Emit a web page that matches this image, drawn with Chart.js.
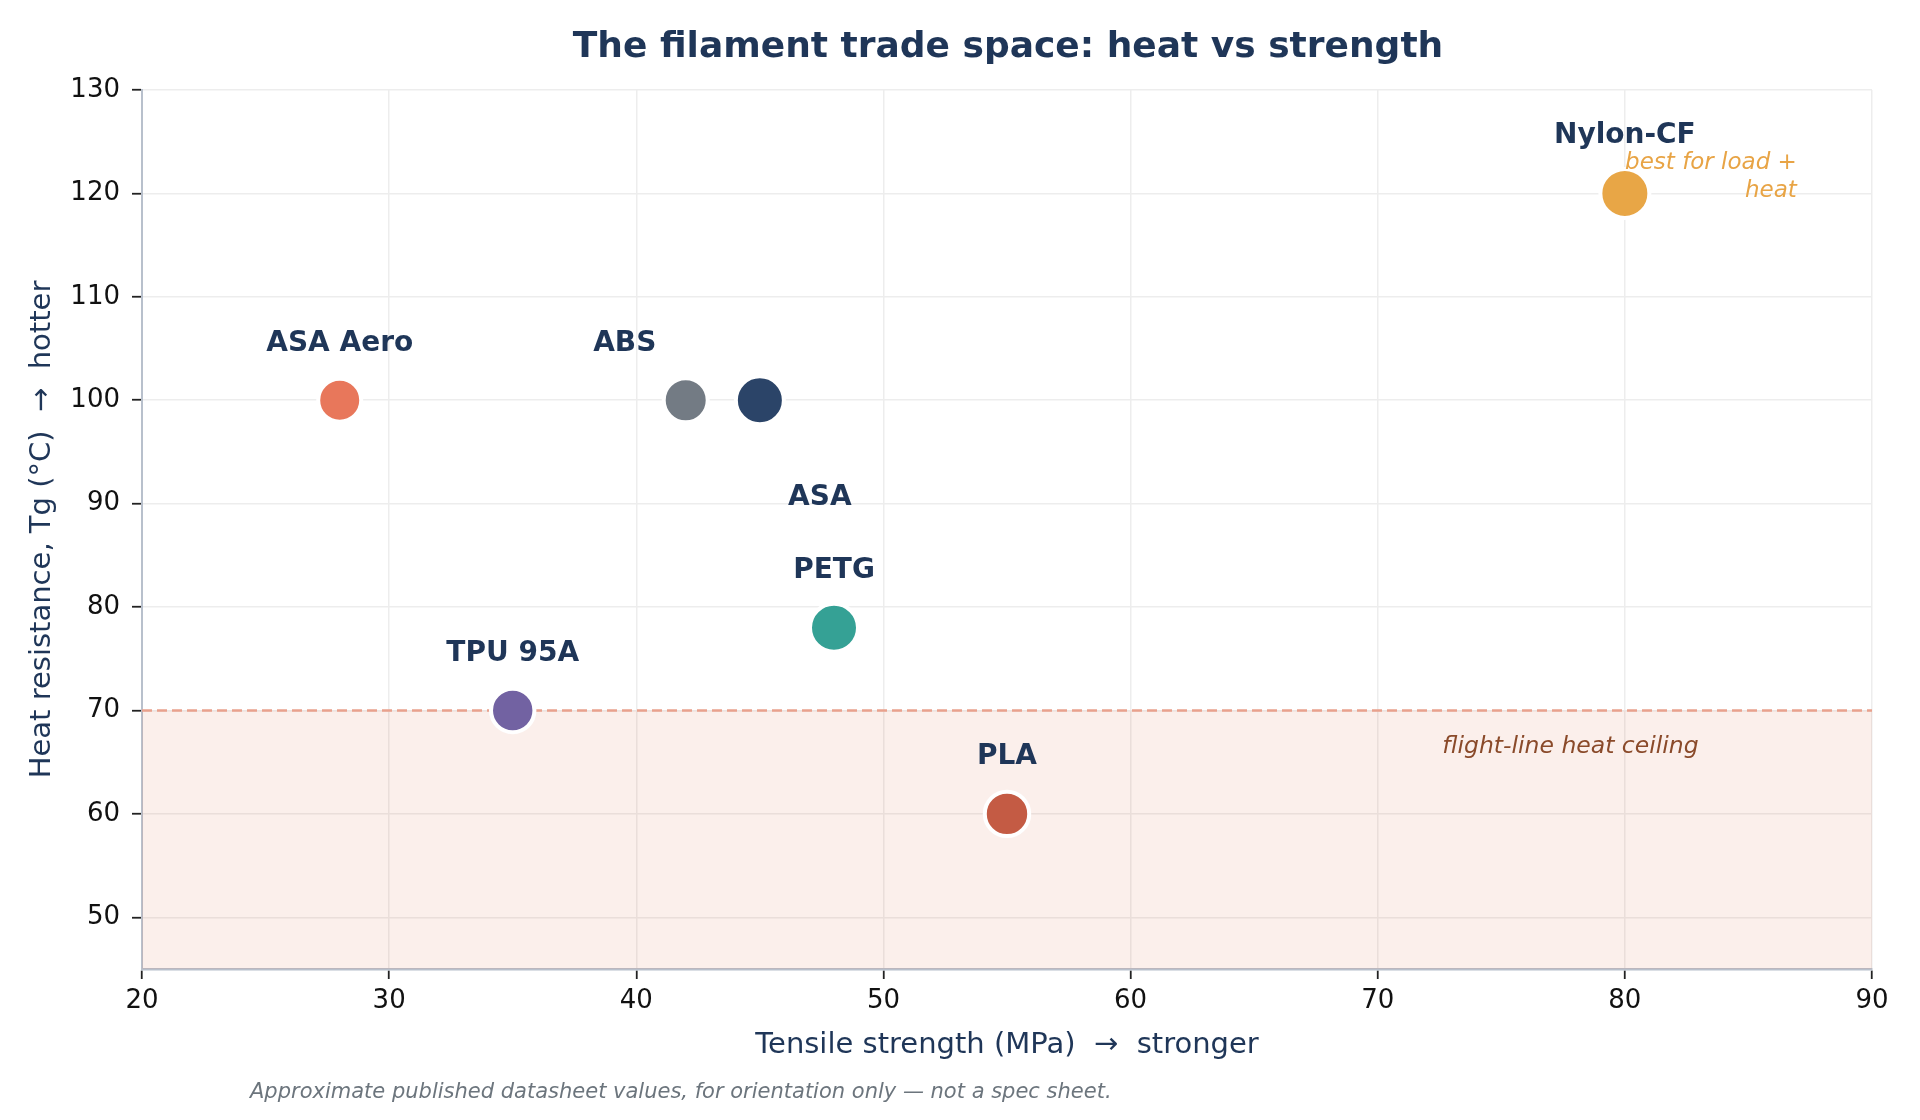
<!DOCTYPE html>
<html lang="en">
<head>
    <meta charset="UTF-8">
    <title>The filament trade space: heat vs strength</title>
    <script src="https://cdn.jsdelivr.net/npm/chart.js"></script>
    <style>
        html, body {
            margin: 0;
            padding: 0;
            background-color: #ffffff;
        }
        canvas {
            display: block;
        }
    </style>
</head>
<body>
    <canvas id="tradeChart" width="1920" height="1120"></canvas>

    <script>
        // values
        var materials  = ['PLA', 'PETG', 'ABS', 'ASA', 'ASA Aero', 'TPU 95A', 'Nylon-CF'];
        var tensileMPa = [55, 48, 42, 45, 28, 35, 80];
        var heatTg     = [60, 78, 100, 100, 100, 70, 120];
        var xTicks = [20, 30, 40, 50, 60, 70, 80, 90];
        var yTicks = [50, 60, 70, 80, 90, 100, 110, 120, 130];
        var heatCeiling = 70;

        // styling, kept apart from the data
        var pointColors = ['#C45B44', '#35A195', '#737B84', '#2B4468', '#E8775B', '#7262A2', '#E8A646'];
        var pointRadii  = [22.2, 24, 22, 24, 21.5, 21.7, 24.5];
        // label offset from its point, in px
        var labelOffsets = [[0, -57], [0, -57], [-61, -57], [60, 97], [0, -57], [0, -57], [0, -58]];

        var NAVY = '#1F3658';
        var FONT = "'DejaVu Sans', 'Liberation Sans', sans-serif";

        var points = tensileMPa.map(function (x, i) {
            return { x: x, y: heatTg[i] };
        });

        var decorPlugin = {
            id: 'decor',
            beforeDatasetsDraw: function (chart) {
                var ctx = chart.ctx;
                var area = chart.chartArea;
                var yPix = chart.scales.y.getPixelForValue(heatCeiling);
                ctx.save();
                // zone under the ceiling
                ctx.fillStyle = 'rgba(214, 95, 60, 0.10)';
                ctx.fillRect(area.left, yPix, area.right - area.left, area.bottom - yPix);
                // ceiling line
                ctx.strokeStyle = '#E9A18D';
                ctx.lineWidth = 2.5;
                ctx.setLineDash([10, 5]);
                ctx.beginPath();
                ctx.moveTo(area.left, yPix);
                ctx.lineTo(area.right, yPix);
                ctx.stroke();
                ctx.setLineDash([]);
                // zone label
                ctx.fillStyle = '#8A4A2A';
                ctx.font = 'italic 23.5px ' + FONT;
                ctx.textAlign = 'center';
                ctx.textBaseline = 'middle';
                ctx.fillText('flight-line heat ceiling',
                    chart.scales.x.getPixelForValue(77.8),
                    chart.scales.y.getPixelForValue(66.45));
                ctx.restore();
            },
            afterDatasetsDraw: function (chart) {
                var ctx = chart.ctx;
                var meta = chart.getDatasetMeta(0);
                ctx.save();
                ctx.fillStyle = NAVY;
                ctx.font = 'bold 28px ' + FONT;
                ctx.textAlign = 'center';
                ctx.textBaseline = 'middle';
                meta.data.forEach(function (pt, i) {
                    ctx.fillText(materials[i], pt.x + labelOffsets[i][0], pt.y + labelOffsets[i][1]);
                });

                // note next to Nylon-CF
                var nylon = meta.data[materials.indexOf('Nylon-CF')];
                ctx.fillStyle = '#E8A445';
                ctx.font = 'italic 23px ' + FONT;
                ctx.textAlign = 'right';
                ctx.fillText('best for load +', nylon.x + 172, nylon.y - 30);
                ctx.fillText('heat', nylon.x + 172, nylon.y - 2);
                ctx.restore();
            },
            afterDraw: function (chart) {
                var ctx = chart.ctx;
                ctx.save();
                ctx.fillStyle = NAVY;
                ctx.font = 'bold 36px ' + FONT;
                ctx.textAlign = 'center';
                ctx.textBaseline = 'middle';
                ctx.fillText('The filament trade space: heat vs strength', 1008, 48);

                ctx.fillStyle = '#6C757D';
                ctx.font = 'italic 21px ' + FONT;
                ctx.textAlign = 'left';
                ctx.textBaseline = 'alphabetic';
                ctx.fillText('Approximate published datasheet values, for orientation only \u2014 not a spec sheet.', 250, 1098);
                ctx.restore();
            }
        };

        var ctx = document.getElementById('tradeChart').getContext('2d');
        var tradeChart = new Chart(ctx, {
            type: 'scatter',
            data: {
                datasets: [{
                    label: 'Filaments',
                    data: points,
                    backgroundColor: pointColors,
                    borderColor: '#ffffff',
                    borderWidth: 4,
                    pointRadius: pointRadii,
                    pointHoverRadius: pointRadii
                }]
            },
            options: {
                responsive: false,
                animation: false,
                devicePixelRatio: 1,
                layout: {
                    padding: { top: 90, right: 48, bottom: 0, left: 0 }
                },
                plugins: {
                    legend: { display: false },
                    title: { display: false },
                    tooltip: { enabled: false }
                },
                scales: {
                    x: {
                        type: 'linear',
                        position: 'bottom',
                        min: 20,
                        max: 90,
                        afterBuildTicks: function (scale) {
                            scale.ticks = xTicks.map(function (v) { return { value: v }; });
                        },
                        afterFit: function (scale) { scale.height = 151; },
                        grid: {
                            color: '#EDEDED',
                            lineWidth: 1.5,
                            tickColor: '#222222',
                            tickLength: 10,
                            tickWidth: 1.8
                        },
                        border: { color: '#B8C0CC', width: 2.5 },
                        ticks: {
                            color: '#111111',
                            padding: 7,
                            font: { family: FONT, size: 26 }
                        },
                        title: {
                            display: true,
                            text: 'Tensile strength (MPa)  \u2192  stronger',
                            color: NAVY,
                            font: { family: FONT, size: 29 },
                            padding: { top: 0, bottom: 57 }
                        }
                    },
                    y: {
                        type: 'linear',
                        min: 45,
                        max: 130,
                        afterBuildTicks: function (scale) {
                            scale.ticks = yTicks.map(function (v) { return { value: v }; });
                        },
                        afterFit: function (scale) { scale.width = 142; },
                        grid: {
                            color: '#EDEDED',
                            lineWidth: 1.5,
                            tickColor: '#222222',
                            tickLength: 10,
                            tickWidth: 1.8
                        },
                        border: { color: '#B8C0CC', width: 2 },
                        ticks: {
                            color: '#111111',
                            padding: 12,
                            font: { family: FONT, size: 26 }
                        },
                        title: {
                            display: true,
                            text: 'Heat resistance, Tg (\u00B0C)  \u2192  hotter',
                            color: NAVY,
                            font: { family: FONT, size: 29 },
                            padding: { top: 25, bottom: 0 }
                        }
                    }
                }
            },
            plugins: [decorPlugin]
        });
    </script>
</body>
</html>
